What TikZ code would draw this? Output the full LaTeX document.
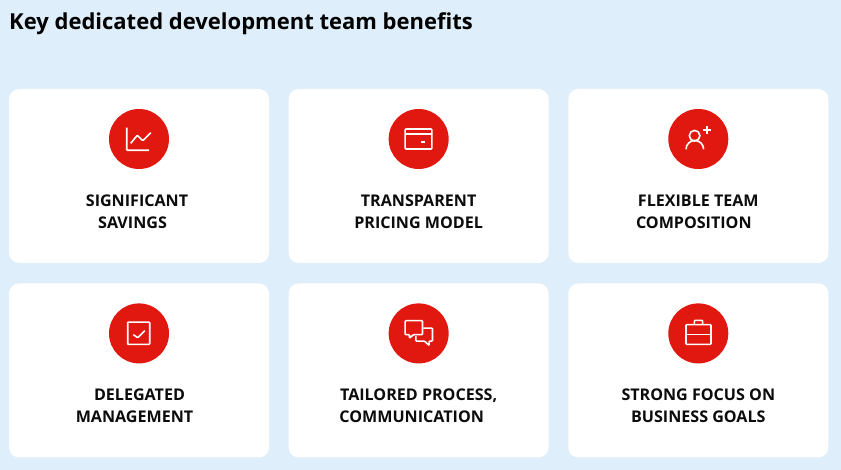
\documentclass[tikz,border=0pt]{standalone}
\usepackage{fontspec}
\setmainfont{Open Sans}
\usetikzlibrary{positioning}
\definecolor{pagesky}{RGB}{222, 238, 251}
\definecolor{iconred}{RGB}{225, 24, 16}
\definecolor{labelink}{RGB}{12, 12, 12}
\tikzset{
  cardbox/.style={fill=white, rounded corners=10pt, minimum width=260pt, minimum height=174pt, inner sep=0pt},
  iconcircle/.style={fill=iconred, circle, minimum size=60pt, inner sep=0pt},
  cardlabel/.style={text=labelink, align=center, inner sep=0pt, font=\fontsize{16.1}{22}\selectfont\bfseries},
  iconline/.style={draw=white, line width=1.6pt, rounded corners=0.8pt}
}

\begin{document}
\begin{tikzpicture}[x=1pt, y=-1pt]
  \fill[pagesky] (0,0) rectangle (841,470);
  \node[anchor=west, text=black, inner sep=0pt, font=\fontsize{22}{26}\selectfont\bfseries] (heading) at (9,23.5) {Key dedicated development team benefits};

  % cards
  \node[cardbox] (savings) at (139,176) {};
  \node[cardbox, right=19.25pt of savings] (pricing) {};
  \node[cardbox, right=19.25pt of pricing] (flexible) {};
  \node[cardbox, below=20pt of savings] (delegated) {};
  \node[cardbox, below=20pt of pricing] (tailored) {};
  \node[cardbox, below=20pt of flexible] (focus) {};

  % red discs
  \node[iconcircle, below=20pt of savings.north] (savingsicon) {};
  \node[iconcircle, below=20pt of pricing.north] (pricingicon) {};
  \node[iconcircle, below=20pt of flexible.north] (flexibleicon) {};
  \node[iconcircle, below=20pt of delegated.north] (delegatedicon) {};
  \node[iconcircle, below=20pt of tailored.north] (tailoredicon) {};
  \node[iconcircle, below=20pt of focus.north] (focusicon) {};

  % labels
  \node[cardlabel, below=25.4pt of savingsicon, xshift=-2pt] (savingstext) {SIGNIFICANT\\SAVINGS\hspace*{9pt}};
  \node[cardlabel, below=25.4pt of pricingicon] (pricingtext) {TRANSPARENT\\PRICING MODEL};
  \node[cardlabel, below=25.4pt of flexibleicon] (flexibletext) {FLEXIBLE TEAM\\COMPOSITION\hspace*{9pt}};
  \node[cardlabel, below=25.4pt of delegatedicon, xshift=0.5pt] (delegatedtext) {DELEGATED\\MANAGEMENT\hspace*{10pt}};
  \node[cardlabel, below=25.4pt of tailoredicon] (tailoredtext) {TAILORED PROCESS,\\COMMUNICATION\hspace*{14pt}};
  \node[cardlabel, below=25.4pt of focusicon] (focustext) {STRONG FOCUS ON\\BUSINESS GOALS};

  % icons
  \begin{scope}[shift={(savingsicon.center)}]
    \draw[iconline] (-12.3,-11.3) -- (-12.3,11.3) -- (10,11.3);
    \draw[iconline] (-8.3,4.3) -- (-1.7,-3.7) -- (3.7,1.7) -- (11.7,-6.3);
  \end{scope}
  \begin{scope}[shift={(pricingicon.center)}]
    \draw[iconline] (-13.5,-10) rectangle (13.2,10);
    \draw[iconline] (-13.5,-4.7) -- (13.2,-4.7);
    \draw[iconline] (2.2,3.3) -- (6.8,3.3);
  \end{scope}
  \begin{scope}[shift={(flexibleicon.center)}]
    \draw[iconline] (-3.7,-3.3) circle (5.3);
    \draw[iconline] (-12.3,10.3) arc (180:360:8.8);
    \draw[iconline] (4.7,-9) -- (12.7,-9);
    \draw[iconline] (8.7,-13) -- (8.7,-5);
  \end{scope}
  \begin{scope}[shift={(delegatedicon.center)}]
    \draw[iconline] (-11.3,-11.3) rectangle (10.7,11);
    \draw[iconline] (-5.7,1.3) -- (-1.3,4.3) -- (5.7,-2.7);
  \end{scope}
  \begin{scope}[shift={(tailoredicon.center)}]
    \draw[iconline] (-13.5,-12.7) -- (3.8,-12.7) -- (3.8,1.3) -- (-5.2,1.3) -- (-9.2,4.7) -- (-9.2,1.3) -- (-13.5,1.3) -- cycle;
    \draw[iconline] (4.8,-5.3) -- (13.8,-5.3) -- (13.8,7.7) -- (10.5,7.7) -- (10.5,12) -- (5.8,7.7) -- (-2.8,7.7) -- (-2.8,2.7);
  \end{scope}
  \begin{scope}[shift={(focusicon.center)}]
    \draw[iconline] (-12.3,-8.7) rectangle (12.7,11);
    \draw[iconline] (-12.3,1.3) -- (12.7,1.3);
    \draw[iconline] (-4,-8.7) -- (-4,-13) -- (4.3,-13) -- (4.3,-8.7);
  \end{scope}
\end{tikzpicture}
\end{document}
